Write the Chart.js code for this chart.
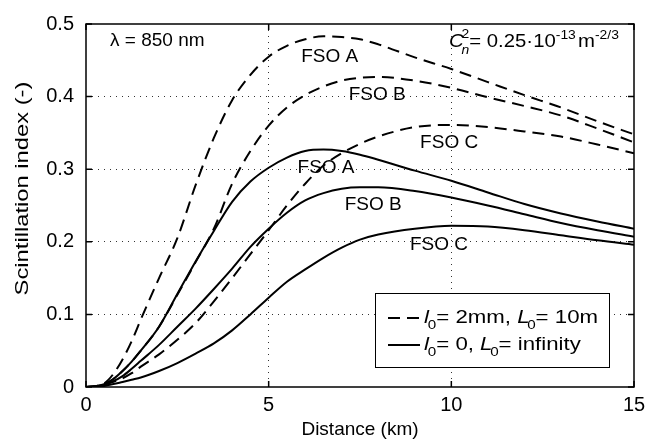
<!DOCTYPE html>
<html>
<head>
<meta charset="utf-8">
<script src="https://cdn.jsdelivr.net/npm/chart.js@4/dist/chart.umd.min.js"></script>
<style>
  html, body { margin: 0; padding: 0; background: #fff; }
  #wrap { width: 662px; height: 443px; }
</style>
</head>
<body>
<div id="wrap"><canvas id="scintChart" width="662" height="443"></canvas></div>
<script>
// 距离 (km)
const distance = [0, 0.25, 0.5, 0.75, 1, 1.25, 1.5, 2, 2.5, 3, 3.5, 4, 4.5, 5, 5.5, 6, 6.5, 7, 7.5, 8, 9, 10, 11, 12, 13, 14, 15];

// l0 = 2mm, L0 = 10m (虚线)
const dashA = [0, 0.001, 0.005, 0.018, 0.038, 0.063, 0.093, 0.15, 0.205, 0.278, 0.343, 0.395, 0.43, 0.455, 0.47, 0.479, 0.483, 0.482, 0.479, 0.472, 0.454, 0.438, 0.42, 0.402, 0.385, 0.366, 0.348];
const dashB = [0, 0.001, 0.004, 0.011, 0.022, 0.035, 0.05, 0.083, 0.127, 0.172, 0.218, 0.28, 0.325, 0.36, 0.385, 0.402, 0.414, 0.422, 0.426, 0.427, 0.422, 0.412, 0.399, 0.387, 0.374, 0.356, 0.337];
const dashC = [0, 0.0005, 0.003, 0.007, 0.012, 0.019, 0.028, 0.045, 0.065, 0.088, 0.118, 0.15, 0.183, 0.216, 0.25, 0.28, 0.305, 0.322, 0.335, 0.345, 0.358, 0.361, 0.358, 0.352, 0.345, 0.334, 0.322];

// l0 = 0, L0 = infinity (实线)
const solidA = [0, 0.001, 0.004, 0.011, 0.022, 0.035, 0.05, 0.083, 0.128, 0.173, 0.215, 0.255, 0.283, 0.302, 0.316, 0.325, 0.327, 0.325, 0.32, 0.313, 0.298, 0.284, 0.268, 0.252, 0.239, 0.228, 0.218];
const solidB = [0, 0.0008, 0.003, 0.008, 0.015, 0.025, 0.036, 0.058, 0.083, 0.108, 0.135, 0.163, 0.193, 0.218, 0.24, 0.257, 0.267, 0.273, 0.275, 0.275, 0.27, 0.261, 0.25, 0.238, 0.226, 0.216, 0.207];
const solidC = [0, 0.0003, 0.0015, 0.004, 0.007, 0.01, 0.013, 0.022, 0.033, 0.046, 0.06, 0.078, 0.1, 0.123, 0.145, 0.162, 0.178, 0.192, 0.203, 0.21, 0.218, 0.222, 0.221, 0.216, 0.209, 0.202, 0.196];

const xTicks = [0, 5, 10, 15];
const yTicks = [0, 0.1, 0.2, 0.3, 0.4, 0.5];

// 曲线标签 [文字, km, 值]
const curveLabels = [
    ['FSO A', 6.67, 0.455],
    ['FSO B', 7.97, 0.402],
    ['FSO C', 9.94, 0.337],
    ['FSO A', 6.57, 0.302],
    ['FSO B', 7.86, 0.251],
    ['FSO C', 9.66, 0.1955]
];

const FONT = '"Liberation Sans", Arial, Helvetica, sans-serif';
const BIG = '19px ' + FONT;
const BIG_I = 'italic 19px ' + FONT;
const SMALL = '13px ' + FONT;
const SMALL_I = 'italic 13px ' + FONT;

function toPoints(ys) {
    return distance.map((d, i) => ({ x: d, y: ys[i] }));
}

function makeSet(label, ys, dashed) {
    return {
        label: label,
        data: toPoints(ys),
        borderColor: '#000',
        borderWidth: 2,
        borderDash: dashed ? [12, 7] : [],
        pointRadius: 0,
        fill: false,
        cubicInterpolationMode: 'monotone'
    };
}

// 按段绘制带上下标的文字，sx 为水平拉伸
function drawRun(ctx, parts, x, y, sx) {
    ctx.save();
    ctx.translate(x, y);
    ctx.scale(sx, 1);
    let cx = 0;
    parts.forEach(p => {
        ctx.font = p[1];
        cx += p[3] || 0;
        ctx.fillText(p[0], cx, p[2] || 0);
        cx += ctx.measureText(p[0]).width;
    });
    ctx.restore();
}

// 在上层绘制边框、刻度、注释和图例
const overlayPlugin = {
    id: 'overlay',
    afterDraw(chart) {
        const ctx = chart.ctx;
        const a = chart.chartArea;
        const xs = chart.scales.x;
        const ys = chart.scales.y;
        ctx.save();

        // 边框
        ctx.strokeStyle = '#000';
        ctx.lineWidth = 1.5;
        ctx.setLineDash([]);
        ctx.strokeRect(a.left, a.top, a.right - a.left, a.bottom - a.top);

        // 内向刻度
        xTicks.forEach(v => {
            const px = xs.getPixelForValue(v);
            ctx.beginPath();
            ctx.moveTo(px, a.bottom); ctx.lineTo(px, a.bottom - 6);
            ctx.moveTo(px, a.top); ctx.lineTo(px, a.top + 6);
            ctx.stroke();
        });
        yTicks.forEach(v => {
            const py = ys.getPixelForValue(v);
            ctx.beginPath();
            ctx.moveTo(a.left, py); ctx.lineTo(a.left + 6, py);
            ctx.moveTo(a.right, py); ctx.lineTo(a.right - 6, py);
            ctx.stroke();
        });

        // y 轴标题 (竖排)
        ctx.fillStyle = '#000';
        ctx.save();
        ctx.translate(23, (a.top + a.bottom) / 2 - 17);
        ctx.rotate(-Math.PI / 2);
        ctx.scale(1.25, 1);
        ctx.font = BIG;
        ctx.textAlign = 'center';
        ctx.textBaseline = 'middle';
        ctx.fillText('Scintillation index (-)', 0, 0);
        ctx.restore();

        // 曲线标签
        ctx.font = BIG;
        ctx.textAlign = 'center';
        ctx.textBaseline = 'middle';
        curveLabels.forEach(([t, x, y]) => {
            ctx.fillText(t, xs.getPixelForValue(x), ys.getPixelForValue(y));
        });

        ctx.textAlign = 'left';
        // λ = 850 nm
        ctx.fillText('\u03bb = 850 nm', 110, 41);

        // Cn^2 = 0.25·10^-13 m^-2/3
        ctx.font = BIG_I;
        const cw = ctx.measureText('C').width;
        drawRun(ctx, [['C', BIG_I]], 449, 42, 1.07);
        drawRun(ctx, [['n', SMALL_I, 8]], 449 + (cw - 2) * 1.07, 42, 1.07);
        drawRun(ctx, [
            ['2', SMALL, -8, cw - 2],
            ['= 0.25\u00b710', BIG, 0, 0],
            ['-13', SMALL, -7, 0],
            ['m', BIG, 0, 2],
            ['-2/3', SMALL, -7, 0]
        ], 449, 42, 1.07);

        // 图例
        const lx = 375, ly = 293, lw = 234, lh = 74;
        ctx.fillStyle = '#fff';
        ctx.fillRect(lx, ly, lw, lh);
        ctx.strokeStyle = '#000';
        ctx.lineWidth = 1;
        ctx.strokeRect(lx + 0.5, ly + 0.5, lw, lh);

        const rows = [
            { y: 318, dash: [12, 7], main: '= 2mm, ', tail: '= 10m' },
            { y: 345, dash: [], main: '= 0, ', tail: '= infinity' }
        ];
        rows.forEach(r => {
            ctx.lineWidth = 2;
            ctx.setLineDash(r.dash);
            ctx.beginPath();
            ctx.moveTo(388, r.y);
            ctx.lineTo(420, r.y);
            ctx.stroke();
            ctx.setLineDash([]);

            ctx.fillStyle = '#000';
            drawRun(ctx, [
                ['l', BIG_I, 0, 0],
                ['0', SMALL, 7, -1],
                [r.main, BIG, 0, 0],
                ['L', BIG_I, 0, 0],
                ['0', SMALL, 7, -2],
                [r.tail, BIG, 0, 0]
            ], 424, r.y, 1.17);
        });

        ctx.restore();
    }
};

const ctx = document.getElementById('scintChart');
new Chart(ctx, {
    type: 'line',
    data: {
        datasets: [
            makeSet('FSO A dashed', dashA, true),
            makeSet('FSO B dashed', dashB, true),
            makeSet('FSO C dashed', dashC, true),
            makeSet('FSO A solid', solidA, false),
            makeSet('FSO B solid', solidB, false),
            makeSet('FSO C solid', solidC, false)
        ]
    },
    options: {
        responsive: false,
        animation: false,
        devicePixelRatio: 1,
        layout: { padding: { left: 0, right: 28, top: 16, bottom: 0 } },
        plugins: {
            legend: { display: false },
            tooltip: { enabled: false }
        },
        scales: {
            x: {
                type: 'linear',
                min: 0,
                max: 15,
                afterFit(scale) { scale.height = 56; },
                afterBuildTicks(scale) { scale.ticks = xTicks.map(v => ({ value: v })); },
                grid: {
                    color: (c) => (c.tick && (c.tick.value === 0 || c.tick.value === 15)) ? 'rgba(0,0,0,0)' : '#333',
                    drawTicks: false,
                    lineWidth: 1
                },
                border: { display: false, dash: [1, 5] },
                ticks: {
                    color: '#000',
                    padding: 6,
                    maxRotation: 0,
                    font: { family: FONT, size: 20 }
                },
                title: {
                    display: true,
                    text: 'Distance (km)',
                    color: '#000',
                    font: { family: FONT, size: 19 },
                    padding: { top: 0, bottom: 2 }
                }
            },
            y: {
                type: 'linear',
                min: 0,
                max: 0.5,
                afterFit(scale) { scale.width = 86; },
                afterBuildTicks(scale) { scale.ticks = yTicks.map(v => ({ value: v })); },
                grid: {
                    color: (c) => (c.tick && (c.tick.value === 0 || c.tick.value === 0.5)) ? 'rgba(0,0,0,0)' : '#333',
                    drawTicks: false,
                    lineWidth: 1
                },
                border: { display: false, dash: [1, 5] },
                ticks: {
                    color: '#000',
                    padding: 12,
                    font: { family: FONT, size: 20 },
                    callback: (v) => String(Math.round(v * 10) / 10)
                }
            }
        }
    },
    plugins: [overlayPlugin]
});
</script>
</body>
</html>
